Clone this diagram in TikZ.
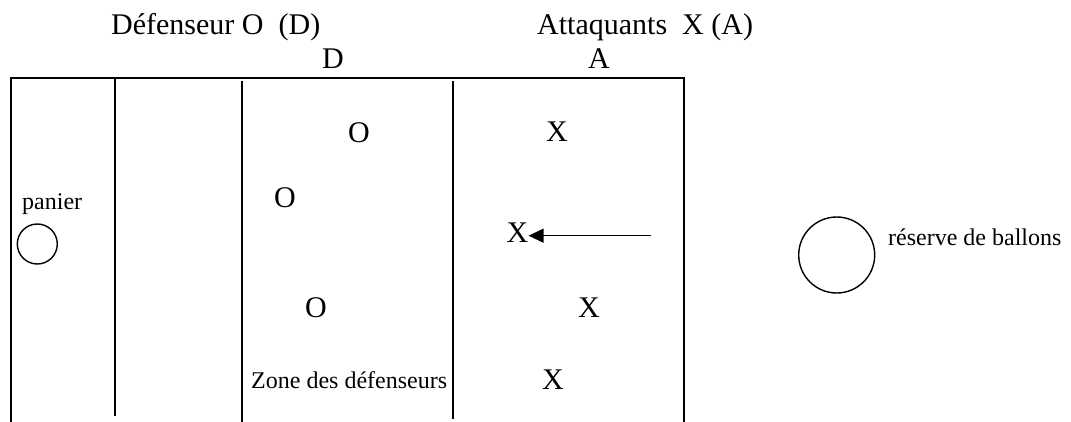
\documentclass[tikz,border=0pt]{standalone}
\usepackage{fontspec}
\setmainfont{Liberation Serif}
\usetikzlibrary{arrows.meta}
\begin{document}
\begin{tikzpicture}[x=1pt,y=-1pt,
  court/.style={line width=1.6pt,line cap=rect},
  big/.style={font=\fontsize{30}{34}\selectfont,inner sep=0pt},
  small/.style={font=\fontsize{24}{28}\selectfont,inner sep=0pt},
  ring/.style={draw,circle,line width=1.4pt,inner sep=0pt}]
\useasboundingbox (0,0) rectangle (1071,421);
% court lines
\draw[court] (11,421) -- (11,78) -- (684,78) -- (684,421);
\draw[court] (115,78) -- (115,415);
\draw[court] (242,82) -- (242,421);
\draw[court] (453,82) -- (453,418);
% headers
\node[big,anchor=base west] (hd) at (111,34) {Défenseur O~ (D)};
\node[big,anchor=base west] (ha) at (537,34) {Attaquants~ X (A)};
\node[big,anchor=base] (d) at (333,68) {D};
\node[big,anchor=base] (a) at (599,68) {A};
% defenders
\node[big] (o1) at (359,133) {O};
\node[big] (o2) at (285,198) {O};
\node[big] (o3) at (316,308) {O};
% attackers
\node[big] (x1) at (557,132) {X};
\node[big] (x2) at (517.5,233) {X};
\node[big] (x3) at (589,308) {X};
\node[big] (x4) at (553,380) {X};
% arrow
\coordinate (s) at (651,235.7);
\draw[line width=1.2pt,-{Triangle[length=15pt,width=14pt]}] (s) -- (x2.east |- s);
% labels
\node[small,anchor=base west] (zone) at (251,388) {Zone des défenseurs};
\node[small,anchor=base west] (pan) at (22,209) {panier};
\node[ring,minimum size=40pt] (basket) at (37.3,244) {};
\node[ring,minimum size=76pt] (res) at (836.7,255) {};
\node[small,anchor=base west] (rl) at (888,245) {réserve de ballons};
\end{tikzpicture}
\end{document}
